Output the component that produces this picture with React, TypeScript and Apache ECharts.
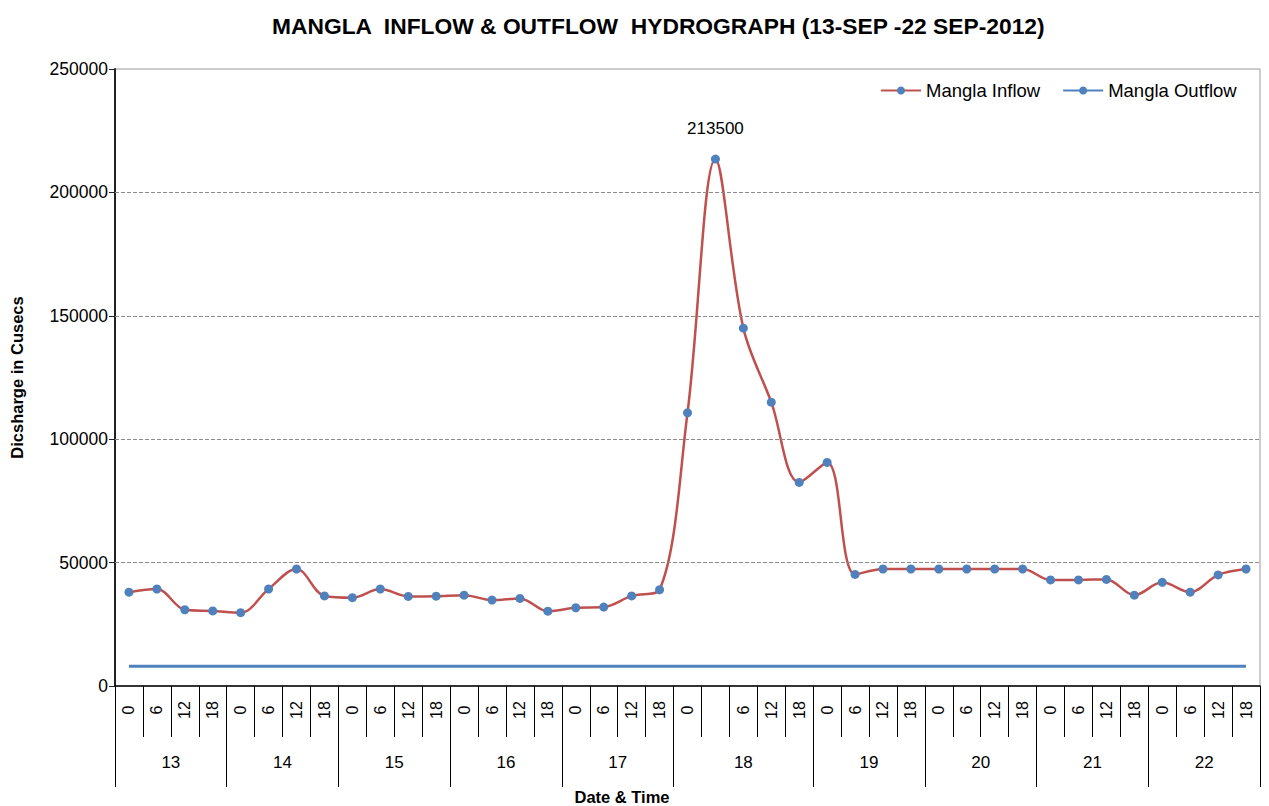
import React, { useEffect, useRef } from "react";
import * as echarts from "echarts";

const days = ["13", "14", "15", "16", "17", "18", "19", "20", "21", "22"];
const hoursPerDay = [4, 4, 4, 4, 4, 5, 4, 4, 4, 4];
const hourLabels = [
  "0", "6", "12", "18",
  "0", "6", "12", "18",
  "0", "6", "12", "18",
  "0", "6", "12", "18",
  "0", "6", "12", "18",
  "0", "", "6", "12", "18",
  "0", "6", "12", "18",
  "0", "6", "12", "18",
  "0", "6", "12", "18",
  "0", "6", "12", "18",
];
const inflow = [
  38000, 39300, 30900, 30400,
  29700, 39300, 47400, 36500,
  35800, 39300, 36300, 36400,
  36800, 34800, 35500, 30300,
  31700, 32000, 36500, 39000,
  110700, 213500, 145000, 115000, 82500,
  90600, 45200, 47400, 47400,
  47400, 47400, 47400, 47400,
  43000, 43000, 43200, 36800,
  42000, 38000, 45000, 47400,
];
const outflow = [
  8000, 8000, 8000, 8000,
  8000, 8000, 8000, 8000,
  8000, 8000, 8000, 8000,
  8000, 8000, 8000, 8000,
  8000, 8000, 8000, 8000,
  8000, 8000, 8000, 8000, 8000,
  8000, 8000, 8000, 8000,
  8000, 8000, 8000, 8000,
  8000, 8000, 8000, 8000,
  8000, 8000, 8000, 8000,
];
const yTicks = [0, 50000, 100000, 150000, 200000, 250000];
const gridLines = [50000, 100000, 150000, 200000];

const FONT = "'Liberation Sans', Arial, sans-serif";

export default function App() {
  const ref = useRef<HTMLDivElement>(null);
  useEffect(() => {
    if (!ref.current) return;
    const chart = echarts.init(ref.current, null, { renderer: "svg" });

    const boundaries: number[] = [0];
    hoursPerDay.forEach((n) => boundaries.push(boundaries[boundaries.length - 1] + n));
    const centers = days.map((_, i) => (boundaries[i] + boundaries[i + 1]) / 2);
    const total = boundaries[boundaries.length - 1];
    const peak = Math.max(...inflow);

    chart.setOption({
      animation: false,
      backgroundColor: "#ffffff",
      textStyle: { fontFamily: FONT },
      title: {
        text: "MANGLA  INFLOW & OUTFLOW  HYDROGRAPH (13-SEP -22 SEP-2012)",
        left: 267,
        top: 9,
        textStyle: { fontSize: 22.8, fontWeight: "bold", color: "#000", fontFamily: FONT },
      },
      legend: {
        left: 875,
        top: 76,
        itemWidth: 40,
        itemHeight: 10,
        itemGap: 22,
        textStyle: { fontSize: 18.5, color: "#000", fontFamily: FONT },
        data: ["Mangla Inflow", "Mangla Outflow"],
      },
      grid: {
        left: 115,
        right: 9,
        top: 69,
        bottom: 120,
        outerBoundsMode: "none",
        containLabel: false,
        show: true,
        borderColor: "#9a9a9a",
        borderWidth: 1,
      },
      xAxis: [
        {
          type: "category",
          data: hourLabels,
          boundaryGap: true,
          position: "bottom",
          axisLine: { show: true, lineStyle: { color: "#000", width: 1.5 } },
          axisTick: { show: true, interval: 0, length: 51, lineStyle: { color: "#000", width: 1 } },
          axisLabel: {
            interval: 0,
            rotate: 90,
            align: "center",
            verticalAlign: "middle",
            margin: 24,
            fontSize: 16,
            color: "#000",
            fontFamily: FONT,
          },
          splitLine: { show: false },
        },
        {
          type: "value",
          min: 0,
          max: total,
          position: "bottom",
          axisLine: { show: false },
          axisTick: {
            show: true,
            customValues: boundaries,
            length: 101,
            lineStyle: { color: "#000", width: 1 },
          },
          axisLabel: {
            show: true,
            customValues: centers,
            formatter: (v: number) => {
              const i = centers.findIndex((c) => Math.abs(c - v) < 1e-6);
              return i >= 0 ? days[i] : "";
            },
            margin: 68,
            fontSize: 17,
            color: "#000",
            fontFamily: FONT,
          },
          splitLine: { show: false },
          name: "Date & Time",
          nameLocation: "middle",
          nameGap: 102,
          nameTextStyle: {
            fontSize: 16.5,
            fontWeight: "bold",
            color: "#000",
            fontFamily: FONT,
            padding: [0, 131, 0, 0],
          },
        },
      ],
      yAxis: {
        type: "value",
        min: yTicks[0],
        max: yTicks[yTicks.length - 1],
        interval: yTicks[1] - yTicks[0],
        axisLine: { show: true, lineStyle: { color: "#222", width: 2 } },
        axisTick: { show: true, length: 6, lineStyle: { color: "#222" } },
        axisLabel: {
          fontSize: 17.5,
          color: "#000",
          margin: 7,
          fontFamily: FONT,
          formatter: (v: number) => String(v),
        },
        splitLine: { show: false },
        name: "Dicsharge in Cusecs",
        nameLocation: "middle",
        nameGap: 90,
        nameTextStyle: { fontSize: 16.5, fontWeight: "bold", color: "#000", fontFamily: FONT },
      },
      series: [
        {
          name: "Mangla Outflow",
          type: "line",
          xAxisIndex: 0,
          data: outflow,
          showSymbol: false,
          symbol: "none",
          lineStyle: { color: "#4F81BD", width: 3 },
          itemStyle: { color: "#4F81BD" },
          markLine: {
            silent: true,
            symbol: ["none", "none"],
            label: { show: false },
            lineStyle: { color: "#8c8c8c", type: [4, 2], width: 1 },
            data: gridLines.map((v) => ({ yAxis: v })),
          },
          z: 2,
        },
        {
          name: "Mangla Inflow",
          type: "line",
          xAxisIndex: 0,
          smooth: 0.35,
          data: inflow.map((v) =>
            v === peak
              ? {
                  value: v,
                  label: {
                    show: true,
                    position: "top",
                    distance: 18,
                    fontSize: 17,
                    color: "#000",
                    fontFamily: FONT,
                  },
                }
              : v
          ),
          symbol: "circle",
          symbolSize: 9,
          lineStyle: { color: "#C0504D", width: 2.5 },
          itemStyle: { color: "#4F81BD" },
          z: 3,
        },
      ],
    });
    return () => chart.dispose();
  }, []);
  return (
    <div
      ref={ref}
      style={{ position: "absolute", left: 0, top: 0, width: 1269, height: 806 }}
    />
  );
}
